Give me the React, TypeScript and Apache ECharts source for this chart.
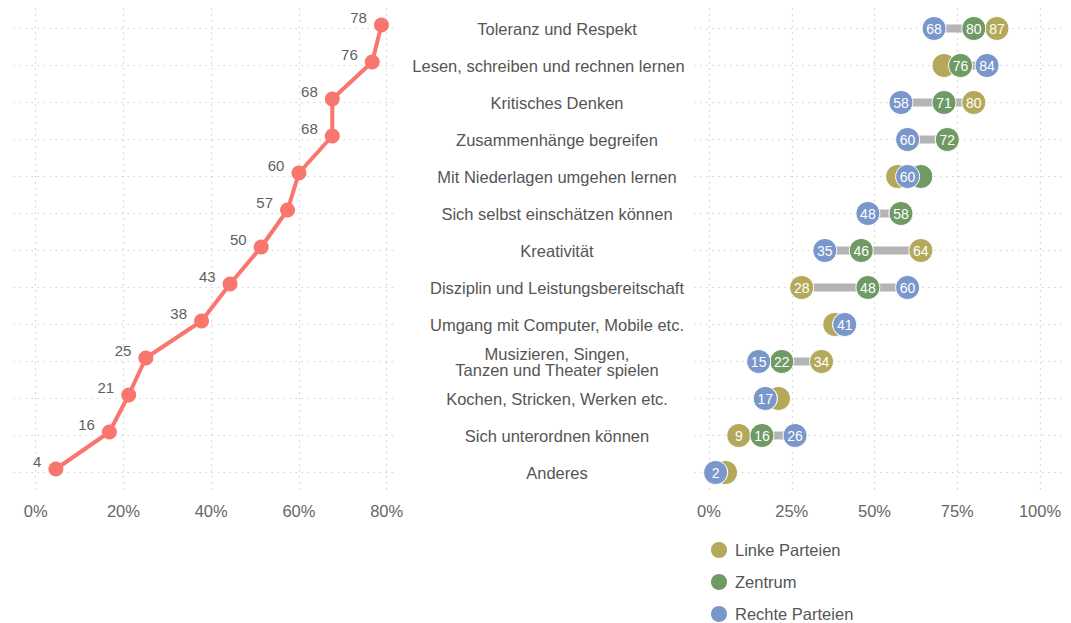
import React, { useEffect, useRef } from "react";
import * as echarts from "echarts";

const FONT = '"Liberation Sans", Arial, Helvetica, sans-serif';

const categories = [
  "Toleranz und Respekt",
  "Lesen, schreiben und rechnen lernen",
  "Kritisches Denken",
  "Zusammenhänge begreifen",
  "Mit Niederlagen umgehen lernen",
  "Sich selbst einschätzen können",
  "Kreativität",
  "Disziplin und Leistungsbereitschaft",
  "Umgang mit Computer, Mobile etc.",
  "Musizieren, Singen,\nTanzen und Theater spielen",
  "Kochen, Stricken, Werken etc.",
  "Sich unterordnen können",
  "Anderes",
];

// Overall share (left panel): plotted position and printed label
const overallValues = [78.8, 76.7, 67.6, 67.6, 60.0, 57.4, 51.4, 44.3, 37.8, 25.1, 21.2, 16.8, 4.6];
const overallLabels = [78, 76, 68, 68, 60, 57, 50, 43, 38, 25, 21, 16, 4];

// By political orientation (right panel)
const linke = [87, 71, 80, 72, 57, 58, 64, 28, 38, 34, 21, 9, 5];
const zentrum = [80, 76, 71, 72, 64, 58, 46, 48, 41, 22, 17, 16, 2];
const rechte = [68, 84, 58, 60, 60, 48, 35, 60, 41, 15, 17, 26, 2];

const groupNames = ["Linke Parteien", "Zentrum", "Rechte Parteien"];
const groupColors = ["#b4a85a", "#6f9a63", "#7a97cb"];

const leftTicks = { min: 0, max: 80, interval: 20 };
const rightTicks = { min: 0, max: 100, interval: 25 };

const LESEN = categories[1];

export default function App() {
  const ref = useRef<HTMLDivElement>(null);

  useEffect(() => {
    if (!ref.current) return;
    const chart = echarts.init(ref.current, undefined, { renderer: "svg" });

    const groups = [linke, zentrum, rechte];
    const mins = categories.map((_, i) => Math.min(linke[i], zentrum[i], rechte[i]));
    const spans = categories.map((_, i) => Math.max(linke[i], zentrum[i], rechte[i]) - mins[i]);

    const dotted = { color: "#d2d2d2", width: 1.2, type: [1.5, 4.5] as any };
    const hiddenAxis = (gridIndex: number, extra: any = {}) => ({
      gridIndex,
      show: false,
      ...extra,
    });

    const scatterSeries = groups.map((vals, s) => ({
      name: groupNames[s],
      type: "scatter",
      xAxisIndex: 5,
      yAxisIndex: 5,
      symbol: "circle",
      symbolSize: 24,
      clip: false,
      z: 10 + s,
      itemStyle: { color: groupColors[s], borderColor: "#ffffff", borderWidth: 1, opacity: 1 },
      label: {
        show: true,
        position: "inside",
        color: "#ffffff",
        fontSize: 14,
        fontFamily: FONT,
        formatter: (p: any) => String(p.value[0]),
      },
      data: vals.map((v, i) => {
        // label hidden when a circle drawn above sits too close
        const covered = groups.slice(s + 1).some((g) => Math.abs(g[i] - v) < 6);
        return covered ? { value: [v, i], label: { show: false } } : { value: [v, i] };
      }),
    }));

    const option: any = {
      animation: false,
      textStyle: { fontFamily: FONT },
      grid: [
        { left: 35.7, top: 8, width: 351, height: 485 },
        { left: 13.5, top: 28.5, width: 381, height: 444 },
        { left: 35.7, top: 25, width: 351, height: 444 },
        { left: 709, top: 8, width: 331, height: 485 },
        { left: 694, top: 28.5, width: 368, height: 444 },
        { left: 709, top: 28.5, width: 331, height: 444 },
      ],
      xAxis: [
        {
          gridIndex: 0,
          type: "value",
          ...leftTicks,
          axisLine: { show: false },
          axisTick: { show: false },
          splitLine: { show: true, lineStyle: dotted },
          axisLabel: { formatter: "{value}%", color: "#666", fontSize: 16.5, margin: 9, fontFamily: FONT },
        },
        hiddenAxis(1, { type: "value", min: 0, max: 1 }),
        hiddenAxis(2, { type: "value", min: leftTicks.min, max: leftTicks.max }),
        {
          gridIndex: 3,
          type: "value",
          ...rightTicks,
          axisLine: { show: false },
          axisTick: { show: false },
          splitLine: { show: true, lineStyle: dotted },
          axisLabel: { formatter: "{value}%", color: "#666", fontSize: 16.5, margin: 9, fontFamily: FONT },
        },
        hiddenAxis(4, { type: "value", min: 0, max: 1 }),
        hiddenAxis(5, { type: "value", min: rightTicks.min, max: rightTicks.max }),
      ],
      yAxis: [
        hiddenAxis(0, { type: "value", min: 0, max: 1 }),
        {
          gridIndex: 1,
          type: "value",
          min: 0,
          max: 12,
          interval: 1,
          axisLine: { show: false },
          axisTick: { show: false },
          axisLabel: { show: false },
          splitLine: { show: true, lineStyle: dotted },
        },
        hiddenAxis(2, { type: "category", data: categories, inverse: true, boundaryGap: false }),
        hiddenAxis(3, { type: "value", min: 0, max: 1 }),
        {
          gridIndex: 4,
          type: "value",
          min: 0,
          max: 12,
          interval: 1,
          axisLine: { show: false },
          axisTick: { show: false },
          axisLabel: { show: false },
          splitLine: { show: true, lineStyle: dotted },
        },
        {
          gridIndex: 5,
          type: "category",
          data: categories,
          inverse: true,
          boundaryGap: false,
          axisLine: { show: false },
          axisTick: { show: false },
          splitLine: { show: false },
          axisLabel: {
            interval: 0,
            align: "center",
            margin: 152,
            color: "#555",
            fontSize: 16.5,
            lineHeight: 16,
            fontFamily: FONT,
            formatter: (v: string) => (v === LESEN ? `{s|${v}}` : v),
            rich: {
              s: { padding: [0, 17, 0, 0], color: "#555", fontSize: 16.5, fontFamily: FONT },
            },
          },
        },
      ],
      legend: {
        data: groupNames,
        orient: "vertical",
        left: 709,
        top: 540,
        height: 120,
        padding: 0,
        icon: "circle",
        itemWidth: 18,
        itemHeight: 18,
        itemGap: 12,
        textStyle: { fontSize: 16.5, color: "#555", fontFamily: FONT, padding: [0, 0, 0, 2] },
      },
      series: [
        {
          type: "line",
          xAxisIndex: 2,
          yAxisIndex: 2,
          data: overallValues.map((v, i) => [v, i]),
          symbol: "circle",
          symbolSize: 15,
          clip: false,
          lineStyle: { color: "#f8766d", width: 4 },
          itemStyle: { color: "#f8766d" },
          label: {
            show: true,
            position: "left",
            distance: 7,
            offset: [0, -8],
            color: "#5f5f5f",
            fontSize: 15,
            fontFamily: FONT,
            formatter: (p: any) => String(overallLabels[p.dataIndex]),
          },
        },
        {
          type: "bar",
          xAxisIndex: 5,
          yAxisIndex: 5,
          stack: "range",
          barWidth: 8,
          clip: false,
          silent: true,
          itemStyle: { color: "rgba(0,0,0,0)" },
          data: mins,
          z: 2,
        },
        {
          type: "bar",
          xAxisIndex: 5,
          yAxisIndex: 5,
          stack: "range",
          barWidth: 8,
          clip: false,
          silent: true,
          itemStyle: { color: "#b4b4b4" },
          data: spans,
          z: 2,
        },
        ...scatterSeries,
      ],
    };

    chart.setOption(option);
    return () => chart.dispose();
  }, []);

  return (
    <div
      ref={ref}
      style={{ position: "fixed", left: 0, top: 0, width: 1071, height: 623, background: "#ffffff" }}
    />
  );
}
